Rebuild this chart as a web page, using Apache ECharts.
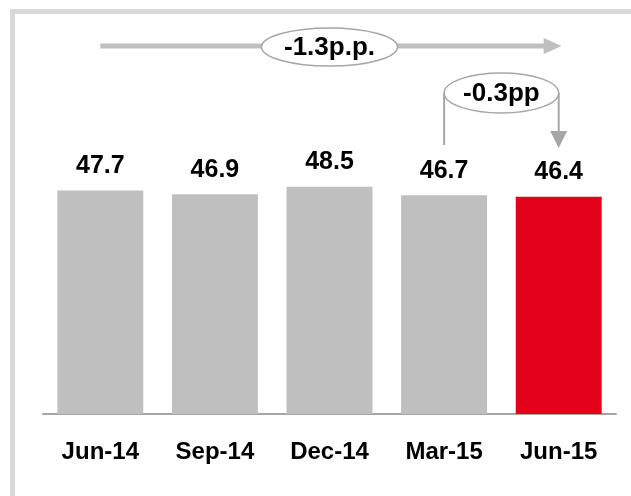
<!DOCTYPE html>
<html>
<head>
<meta charset="utf-8">
<script src="https://cdn.jsdelivr.net/npm/echarts@6/dist/echarts.min.js"></script>
<style>
    html, body { margin: 0; padding: 0; background: #fff; }
    #main { width: 631px; height: 496px; }
</style>
</head>
<body>
<div id="main"></div>
<script type="text/javascript">
    var categories = ['Jun-14', 'Sep-14', 'Dec-14', 'Mar-15', 'Jun-15'];
    var values = [47.7, 46.9, 48.5, 46.7, 46.4];
    var totalChange = '-1.3p.p.';
    var lastChange = '-0.3pp';

    var grey = '#bfbfbf';
    var red = '#e2001a';
    var lineGrey = '#a6a6a6';
    var fontFamily = '"Liberation Sans", Arial, sans-serif';

    var myChart = echarts.init(document.getElementById('main'));

    var option = {
        animation: false,
        backgroundColor: '#fff',
        grid: { left: 43, right: 15, top: 133, bottom: 82 },
        xAxis: {
            type: 'category',
            data: categories,
            axisTick: { show: false },
            axisLine: { lineStyle: { color: lineGrey, width: 2 } },
            axisLabel: {
                margin: 26,
                color: '#000',
                fontWeight: 'bold',
                fontSize: 24,
                fontFamily: fontFamily
            }
        },
        yAxis: {
            type: 'value',
            min: 0,
            max: 60,
            show: false,
            splitLine: { show: false }
        },
        series: [{
            type: 'bar',
            data: values,
            barWidth: '75%',
            itemStyle: {
                color: function (p) {
                    return p.dataIndex === values.length - 1 ? red : grey;
                }
            },
            label: {
                show: true,
                position: 'top',
                distance: 12,
                color: '#000',
                fontWeight: 'bold',
                fontSize: 25,
                fontFamily: fontFamily
            }
        }]
    };
    myChart.setOption(option);

    // annotations placed from the category positions
    var last = categories.length - 1;
    var x0 = myChart.convertToPixel({ xAxisIndex: 0 }, categories[0]);
    var xMid = myChart.convertToPixel({ xAxisIndex: 0 }, categories[2]);
    var xPrev = myChart.convertToPixel({ xAxisIndex: 0 }, categories[last - 1]);
    var xLast = myChart.convertToPixel({ xAxisIndex: 0 }, categories[last]);
    var topY = 46;
    var brY = 93;
    var brMid = (xPrev + xLast) / 2;
    var annFont = 'bold 26px ' + fontFamily;

    myChart.setOption({
        graphic: [
            // frame
            {
                type: 'rect', z: 0, silent: true,
                shape: { x: 12.5, y: 11.5, width: 700, height: 600 },
                style: { fill: null, stroke: '#d9d9d9', lineWidth: 5 }
            },
            // overall arrow
            {
                type: 'line', z: 10,
                shape: { x1: x0, y1: topY, x2: xLast - 14, y2: topY },
                style: { stroke: grey, lineWidth: 5 }
            },
            {
                type: 'polygon', z: 10,
                shape: { points: [[xLast - 15, topY - 8], [xLast + 3, topY], [xLast - 15, topY + 8]] },
                style: { fill: grey }
            },
            {
                type: 'ellipse', z: 11,
                shape: { cx: xMid, cy: topY + 1, rx: 68, ry: 19 },
                style: { fill: '#fff', stroke: lineGrey, lineWidth: 1.5 }
            },
            {
                type: 'text', z: 12,
                style: {
                    text: totalChange, x: xMid, y: topY + 2, fill: '#000',
                    font: annFont, align: 'center', verticalAlign: 'middle'
                }
            },
            // last quarter bracket
            {
                type: 'polyline', z: 10,
                shape: { points: [[xPrev, 145], [xPrev, brY]] },
                style: { stroke: lineGrey, lineWidth: 2 }
            },
            {
                type: 'polyline', z: 10,
                shape: { points: [[xLast, brY], [xLast, 132]] },
                style: { stroke: lineGrey, lineWidth: 2 }
            },
            {
                type: 'polygon', z: 10,
                shape: { points: [[xLast - 8.5, 131], [xLast + 8.5, 131], [xLast, 148]] },
                style: { fill: lineGrey }
            },
            {
                type: 'ellipse', z: 11,
                shape: { cx: brMid, cy: brY, rx: (xLast - xPrev) / 2, ry: 20 },
                style: { fill: '#fff', stroke: lineGrey, lineWidth: 1.5 }
            },
            {
                type: 'text', z: 12,
                style: {
                    text: lastChange, x: brMid, y: brY + 1, fill: '#000',
                    font: annFont, align: 'center', verticalAlign: 'middle'
                }
            }
        ]
    });
</script>
</body>
</html>
